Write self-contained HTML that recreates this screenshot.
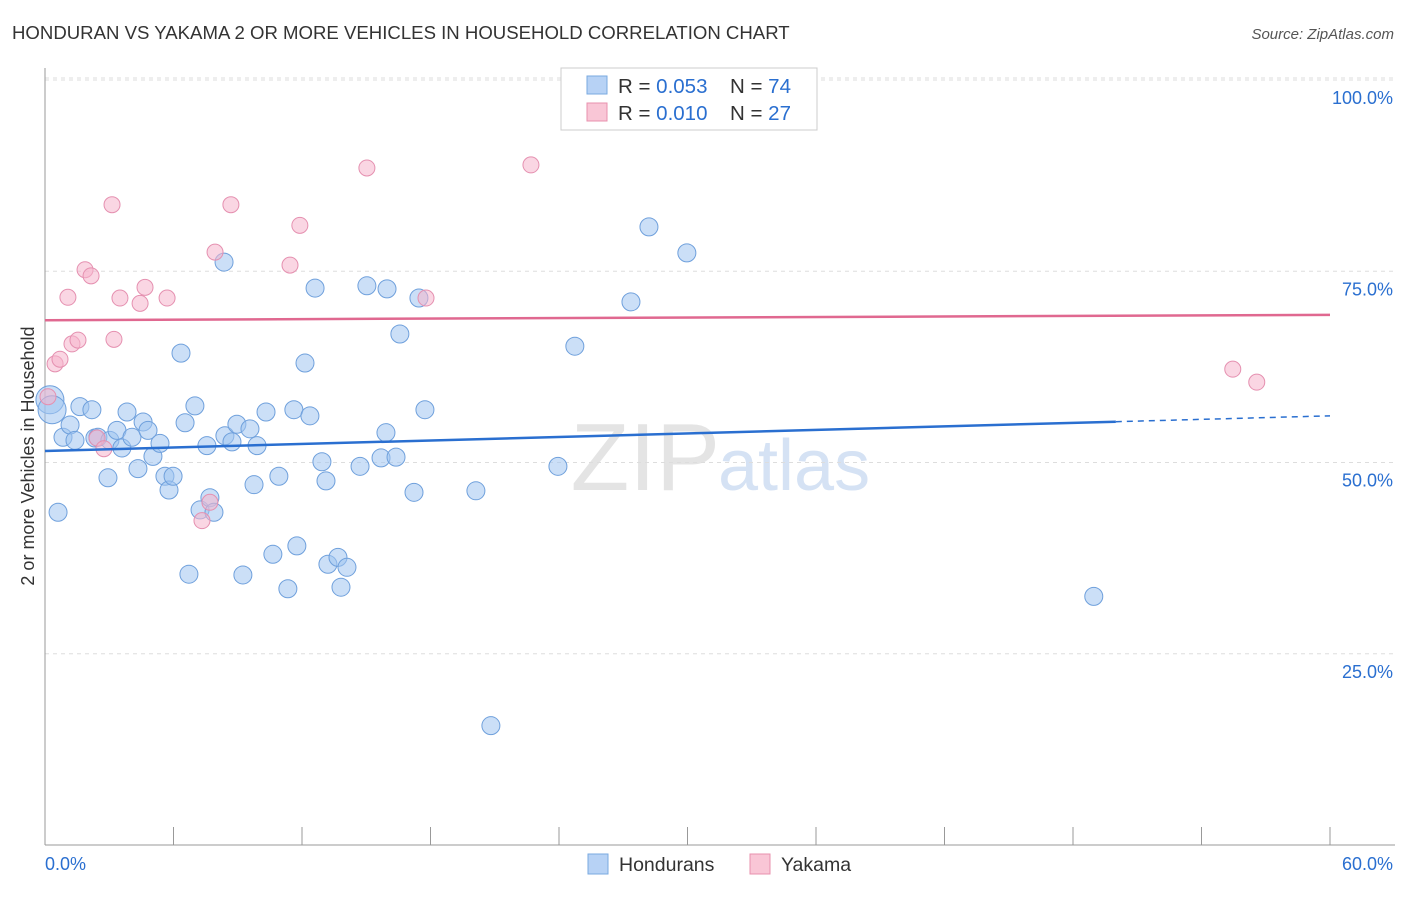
<!DOCTYPE html>
<html><head><meta charset="utf-8">
<style>
body{margin:0;background:#fff;font-family:"Liberation Sans",sans-serif;}
svg text{font-family:"Liberation Sans",sans-serif;}
</style></head>
<body>
<svg id="chart" width="1406" height="892" viewBox="0 0 1406 892" xmlns="http://www.w3.org/2000/svg">
<text x="12" y="39" font-size="18.6" fill="#333">HONDURAN VS YAKAMA 2 OR MORE VEHICLES IN HOUSEHOLD CORRELATION CHART</text>
<text x="1394" y="39" font-size="15" fill="#555" text-anchor="end" font-style="italic">Source: ZipAtlas.com</text>
<text x="720" y="490" font-size="96" fill="#e4e4e4" text-anchor="end" font-family="Liberation Serif">ZIP</text>
<text x="718" y="490" font-size="72" fill="#d5e2f4">atlas</text>
<g id="grid"></g>
<g id="axes"></g>
<g id="marks"></g>
<text transform="translate(34,456) rotate(-90)" font-size="18" fill="#333" text-anchor="middle">2 or more Vehicles in Household</text>
<g>
<rect x="561" y="68" width="256" height="62" fill="#fff" stroke="#ccc"/>
<rect x="587" y="76" width="20" height="18" fill="#b7d2f5" stroke="#7aaae0"/>
<rect x="587" y="103" width="20" height="18" fill="#f9c6d6" stroke="#e890ae"/>
<text x="618" y="93" font-size="20.5" fill="#333">R = <tspan fill="#2a6fd0">0.053</tspan></text>
<text x="730" y="93" font-size="20.5" fill="#333">N = <tspan fill="#2a6fd0">74</tspan></text>
<text x="618" y="120" font-size="20.5" fill="#333">R = <tspan fill="#2a6fd0">0.010</tspan></text>
<text x="730" y="120" font-size="20.5" fill="#333">N = <tspan fill="#2a6fd0">27</tspan></text>
</g>
<g>
<rect x="588" y="854" width="20" height="20" fill="#b7d2f5" stroke="#7aaae0"/>
<text x="619" y="871" font-size="19.5" fill="#333">Hondurans</text>
<rect x="750" y="854" width="20" height="20" fill="#f9c6d6" stroke="#e890ae"/>
<text x="781" y="871" font-size="19.5" fill="#333">Yakama</text>
</g>
</svg>
<script>
const blueX=[0.23,0.33,0.61,0.84,1.17,1.40,1.63,2.19,2.33,2.47,2.94,3.03,3.36,3.59,3.83,4.06,4.34,4.58,4.81,5.04,5.37,5.60,5.79,5.98,6.35,6.54,6.72,7.00,7.24,7.56,7.70,7.89,8.36,8.40,8.73,8.96,9.24,9.57,9.76,9.90,10.32,10.64,10.92,11.34,11.62,11.76,12.14,12.37,12.61,12.93,13.12,13.21,13.68,13.82,14.10,14.71,15.03,15.69,15.92,15.97,16.39,16.57,17.23,17.46,17.74,20.12,20.82,23.95,24.74,27.36,28.20,29.97,48.97];
const blueY=[58.2,56.9,43.5,53.3,54.9,52.9,57.3,56.9,53.2,53.3,48.0,52.9,54.2,51.9,56.6,53.3,49.2,55.3,54.2,50.8,52.5,48.2,46.4,48.2,64.3,55.2,35.4,57.4,43.8,52.2,45.4,43.5,76.2,53.5,52.7,55.0,35.3,54.4,47.1,52.2,56.6,38.0,48.2,33.5,56.9,39.1,63.0,56.1,72.8,50.1,47.6,36.7,37.6,33.7,36.3,49.5,73.1,50.6,53.9,72.7,50.7,66.8,46.1,71.5,56.9,46.3,15.6,49.5,65.2,71.0,80.8,77.4,32.5];
const pinkX=[0.14,0.47,0.70,1.07,1.26,1.54,1.87,2.15,2.43,2.75,3.13,3.22,3.50,4.44,4.67,5.70,7.33,7.70,7.94,8.68,11.44,11.90,15.03,17.79,22.69,55.46,56.58];
const pinkY=[58.6,62.9,63.5,71.6,65.5,66.0,75.2,74.4,53.2,51.8,83.7,66.1,71.5,70.8,72.9,71.5,42.4,44.8,77.5,83.7,75.8,81.0,88.5,71.5,88.9,62.2,60.5];
const blueTrend=[51.5,56.1];
const pinkTrend=[68.6,69.3];
const yTicks=[25,50,75,100];
const yTickLabels=["25.0%","50.0%","75.0%","100.0%"];
const xTicks=[0,6,12,18,24,30,36,42,48,54,60];
const NS="http://www.w3.org/2000/svg";
const X0=45,X1=1330,Y0=845,Y100=80;
const sx=v=>X0+(X1-X0)*v/60;
const sy=v=>Y0-(Y0-Y100)*v/100;
function mk(tag,attrs,parent){const e=document.createElementNS(NS,tag);for(const k in attrs)e.setAttribute(k,attrs[k]);document.getElementById(parent).appendChild(e);return e;}
yTicks.forEach((t,i)=>{
 const g=mk('line',{x1:X0,x2:1395,y1:sy(t),y2:sy(t),stroke:'#ddd','stroke-dasharray':'4,4'},'grid');
 
 
 const tx=mk('text',{x:1393,y:sy(t)+24,'font-size':18,fill:'#2a6fd0','text-anchor':'end'},'axes');
 tx.textContent=yTickLabels[i];
 
 
});
const topGrid=mk('line',{x1:X0,x2:1395,y1:78,y2:78,stroke:'#ddd','stroke-dasharray':'4,4'},'grid');


const xa=mk('line',{x1:X0,x2:1395,y1:Y0,y2:Y0,stroke:'#999'},'axes');


const ya=mk('line',{x1:X0,x2:X0,y1:68,y2:Y0,stroke:'#999'},'axes');


xTicks.forEach(t=>{
 const l=mk('line',{x1:sx(t),x2:sx(t),y1:827,y2:Y0,stroke:'#999'},'axes');
 
 
});
const xl=mk('text',{x:45,y:870,'font-size':18,fill:'#2a6fd0'},'axes');
xl.textContent="0.0%";


const xr=mk('text',{x:1393,y:870,'font-size':18,fill:'#2a6fd0','text-anchor':'end'},'axes');
xr.textContent="60.0%";


blueX.forEach((x,i)=>{
 const r=(i<2)?14:9;
 const c=mk('circle',{cx:sx(x),cy:sy(blueY[i]),r:r,fill:'rgba(160,196,240,0.55)',stroke:'#6fa0dc','stroke-width':1},'marks');
 
 
});
pinkX.forEach((x,i)=>{
 const c=mk('circle',{cx:sx(x),cy:sy(pinkY[i]),r:8,fill:'rgba(246,180,204,0.55)',stroke:'#e590b0','stroke-width':1},'marks');
 
 
});
const bEnd=50, bv=x=>blueTrend[0]+(blueTrend[1]-blueTrend[0])*x/60;
const bl=mk('line',{x1:sx(0),y1:sy(bv(0)),x2:sx(bEnd),y2:sy(bv(bEnd)),stroke:'#2a6fd0','stroke-width':2.5},'marks');


const bd=mk('line',{x1:sx(bEnd),y1:sy(bv(bEnd)),x2:sx(60),y2:sy(bv(60)),stroke:'#2a6fd0','stroke-width':1.5,'stroke-dasharray':'6,5'},'marks');


const pl=mk('line',{x1:sx(0),y1:sy(pinkTrend[0]),x2:sx(60),y2:sy(pinkTrend[1]),stroke:'#e06890','stroke-width':2.5},'marks');


</script>
</body></html>
